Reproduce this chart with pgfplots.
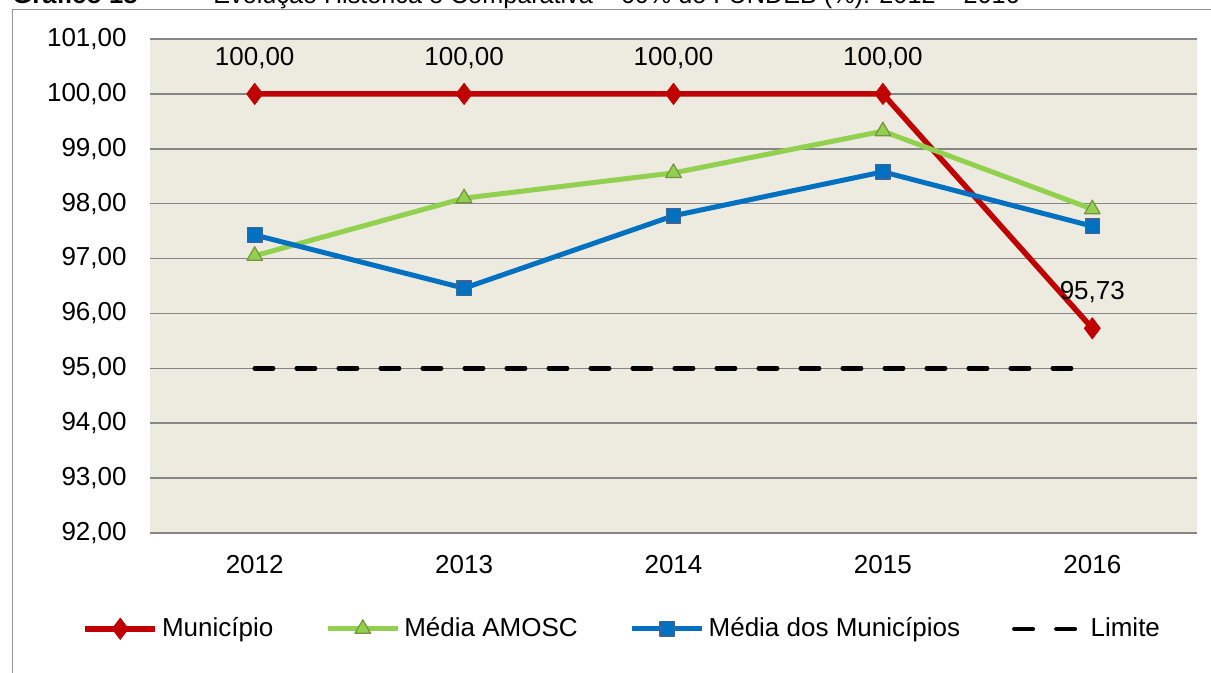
\documentclass[border=0pt]{standalone}
\usepackage{pgfplots}
\pgfplotsset{compat=1.18}
\usepackage{fontspec}
\setmainfont{Liberation Sans}
\definecolor{cRed}{RGB}{192,0,0}
\definecolor{cGreen}{RGB}{146,208,80}
\definecolor{cGreenD}{RGB}{118,146,60}
\definecolor{cBlue}{RGB}{0,112,192}
\definecolor{cBlueD}{RGB}{60,100,150}
\definecolor{bgcol}{RGB}{237,234,224}
\definecolor{gridcol}{RGB}{134,134,134}
\definecolor{framecol}{RGB}{150,150,150}
\pgfkeys{/pgf/number format/.cd, fixed, fixed zerofill, precision=2, use comma, assume math mode=true}
\begin{document}
\begin{tikzpicture}[font=\fontsize{13pt}{15.6pt}\selectfont]
\path[use as bounding box] (0,0) rectangle (605.5pt,336.5pt);
\clip (0,0) rectangle (605.5pt,336.5pt);
\draw[framecol, line width=0.75pt] (6.25pt,-5pt) -- (6.25pt,331.75pt) -- (620pt,331.75pt);
\node[anchor=base west, inner sep=0pt, font=\fontsize{12.8pt}{15.4pt}\selectfont\bfseries] at (6pt,334.5pt) {Gráfico 18};
\node[anchor=base west, inner sep=0pt, font=\fontsize{12.8pt}{15.4pt}\selectfont] at (78.5pt,334.5pt) {–};
\node[anchor=base west, inner sep=0pt, font=\fontsize{12.6pt}{15.2pt}\selectfont] at (106.5pt,334.5pt) {Evolução Histórica e Comparativa – 60\% do FUNDEB (\%): 2012 – 2016};
\begin{axis}[
  at={(75pt,70pt)}, anchor=south west,
  scale only axis, width=523.5pt, height=247pt,
  xmin=-0.5, xmax=4.5, ymin=92, ymax=101,
  xtick={0,1,2,3,4}, xticklabels={2012,2013,2014,2015,2016},
  ytick={92,93,...,101},
  ymajorgrids, grid style={gridcol, line width=0.75pt},
  axis line style={draw=none},
  major tick length=0pt,
  axis background/.style={fill=bgcol},
  clip=false,
  yticklabel style={anchor=east, inner sep=0pt, xshift=-11.5pt},
  xticklabel style={anchor=north, inner sep=0pt, yshift=-11pt},
  legend style={at={(0.452,-0.194)}, anchor=center, draw=none, fill=none,
    legend columns=4, /tikz/every even column/.append style={column sep=24pt},
    font=\fontsize{13pt}{15.6pt}\selectfont},
  legend image code/.code={\draw[mark repeat=2,mark phase=2] plot coordinates {(0pt,0pt) (17.5pt,0pt) (35pt,0pt)};},
]
\addplot[cRed, line width=2.75pt, line join=round, mark=diamond*, mark size=5.25pt,
  mark options={solid, fill=cRed, draw=cRed, line width=0.5pt},
  nodes near coords, every node near coord/.append style={anchor=center, yshift=18pt, text=black, inner sep=0pt}]
  coordinates {(0,100) (1,100) (2,100) (3,100) (4,95.73)};
\addlegendentry{Município}
\addplot[cGreen, line width=2.5pt, line join=round, mark=triangle*, mark size=4.5pt,
  mark options={solid, fill=cGreen, draw=cGreenD, line width=0.6pt}]
  coordinates {(0,97.05) (1,98.10) (2,98.56) (3,99.32) (4,97.90)};
\addlegendentry{Média AMOSC}
\addplot[cBlue, line width=2.5pt, line join=round, mark=square*, mark size=3.6pt,
  mark options={solid, fill=cBlue, draw=cBlueD, line width=0.6pt}]
  coordinates {(0,97.43) (1,96.46) (2,97.78) (3,98.58) (4,97.59)};
\addlegendentry{Média dos Municípios}
\addplot[black, line width=2.25pt, line cap=round, dash pattern=on 9.25pt off 11.75pt]
  coordinates {(0,95) (1,95) (2,95) (3,95) (4,95)};
\addlegendentry{Limite}
\end{axis}
\end{tikzpicture}
\end{document}
